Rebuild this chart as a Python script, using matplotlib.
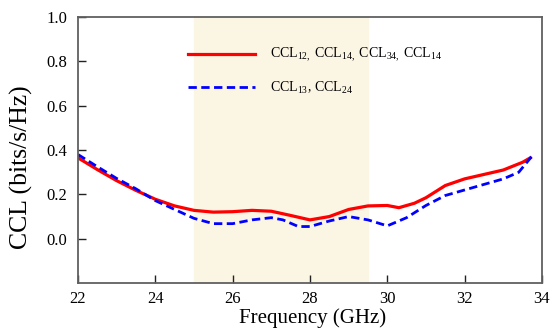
import matplotlib
matplotlib.use("Agg")
import matplotlib.pyplot as plt

plt.rcParams['font.family'] = ['Liberation Serif', 'DejaVu Serif']
plt.rcParams['mathtext.fontset'] = 'custom'
plt.rcParams['mathtext.rm'] = 'Liberation Serif'
plt.rcParams['mathtext.it'] = 'Liberation Serif:italic'

# red solid curve
freq_a = [22.0, 22.5, 23.0, 23.5, 24.0, 24.5, 25.0, 25.5, 26.0, 26.5, 27.0, 27.5,
          28.0, 28.5, 29.0, 29.5, 30.0, 30.3, 30.7, 31.0, 31.5, 32.0, 32.5, 33.0,
          33.5, 33.7]
ccl_a = [0.365, 0.312, 0.262, 0.218, 0.178, 0.148, 0.128, 0.120, 0.122, 0.128, 0.124,
         0.105, 0.085, 0.100, 0.132, 0.148, 0.150, 0.140, 0.160, 0.185, 0.240, 0.270,
         0.290, 0.310, 0.345, 0.365]

# blue dashed curve
freq_b = [22.0, 22.5, 23.0, 23.5, 24.0, 24.5, 25.0, 25.5, 26.0, 26.5, 27.0, 27.3,
          27.7, 28.0, 28.5, 29.0, 29.5, 30.0, 30.5, 31.0, 31.5, 32.0, 32.5, 33.0,
          33.4, 33.8]
ccl_b = [0.380, 0.325, 0.272, 0.225, 0.172, 0.132, 0.092, 0.068, 0.068, 0.085, 0.095,
         0.085, 0.055, 0.055, 0.080, 0.100, 0.085, 0.058, 0.095, 0.150, 0.195, 0.220,
         0.245, 0.270, 0.300, 0.385]

band = (25.0, 29.5)
label_a = r"CCL$_{12,}$ CCL$_{14,}$ CCL$_{34,}$ CCL$_{14}$"
label_b = r"CCL$_{13}$, CCL$_{24}$"

fig = plt.figure(figsize=(5.59, 3.28), dpi=100)
ax = fig.add_axes([0.1395, 0.137, 0.830, 0.811])

ax.axvspan(*band, color='#fbf5e4', zorder=0)
ax.plot(freq_a, ccl_a, color='#ff0000', lw=2.3, label=label_a)
ax.plot(freq_b, ccl_b, color='#0000ff', lw=2.0, dashes=(3, 1.6), label=label_b)

ax.set_xlim(22, 34)
ax.set_ylim(-0.2, 1.0)
ax.set_xticks([22, 24, 26, 28, 30, 32, 34])
ax.set_yticks([0.0, 0.2, 0.4, 0.6, 0.8, 1.0])
ax.set_yticklabels(['0.0', '0.2', '0.4', '0.6', '0.8', '1.0'])
ax.tick_params(direction='in', length=6, width=1, color='#222222', labelsize=12)
ax.tick_params(axis='y', pad=8)
ax.tick_params(axis='x', pad=6)
for s in ax.spines.values():
    s.set_color('#606060')
    s.set_linewidth(1.3)

ax.set_xlabel('Frequency (GHz)', fontsize=15)
ax.set_ylabel('CCL (bits/s/Hz)', fontsize=18.5)
ax.xaxis.set_label_coords(0.506, -0.095)
ax.yaxis.set_label_coords(-0.097, 0.436)

ax.legend(loc='upper left', bbox_to_anchor=(0.237, 0.89), frameon=False,
          fontsize=10, handlelength=4.8, handletextpad=1.1, labelspacing=1.1,
          borderpad=0, borderaxespad=0)

fig.savefig('out.png', dpi=100)
